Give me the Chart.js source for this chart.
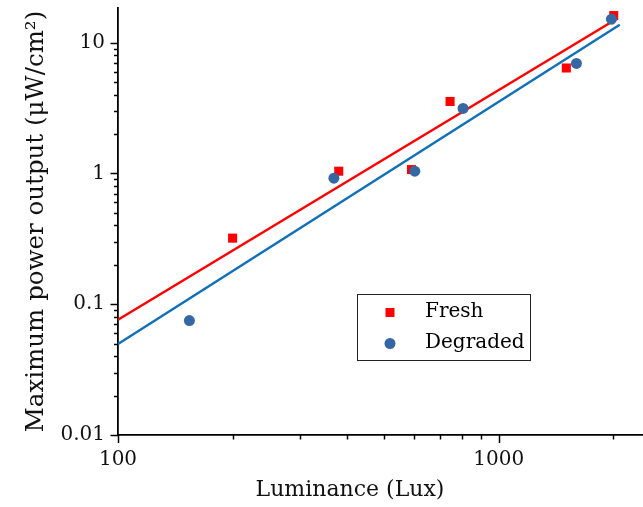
<!DOCTYPE html>
<html>
<head>
<meta charset="utf-8">
<script src="https://cdn.jsdelivr.net/npm/chart.js@4/dist/chart.umd.min.js"></script>
<style>
  html, body { margin: 0; padding: 0; background: #fff; }
  canvas { display: block; }
</style>
</head>
<body>
<canvas id="c" width="643" height="507"></canvas>
<script>
// ---- data ----
const freshLux    = [200, 380, 590, 745, 1505, 2005];
const freshPower  = [0.32, 1.04, 1.07, 3.55, 6.4, 16.1];
const degLux      = [154, 369, 602, 806, 1600, 1977];
const degPower    = [0.075, 0.92, 1.04, 3.14, 6.93, 15.1];
// fitted lines (end points)
const freshFitLux   = [100, 2038];
const freshFitPower = [0.076, 15.15];
const degFitLux     = [100, 2079];
const degFitPower   = [0.0496, 13.7];
const seriesNames = ['Fresh', 'Degraded'];
const xTickLabels = ['100', '1000'];
const yTickLabels = ['0.01', '0.1', '1', '10'];
const xTitle = 'Luminance (Lux)';
const yTitle = 'Maximum power output (μW/cm²)';

const RED = '#ff0000';
const BLUE_PT = '#3568a3';
const BLUE_LN = '#1170b6';
const FONT = "'DejaVu Serif', serif";

const pts = (xs, ys) => xs.map((x, i) => ({x, y: ys[i]}));

function mant(v) {
  const e = Math.floor(Math.log10(v) + 1e-9);
  return v / Math.pow(10, e);
}
function isDecadeStep(v) {
  const m = mant(v);
  return Math.abs(m - Math.round(m)) < 1e-6 && Math.round(m) >= 1 && Math.round(m) <= 9;
}
function isMajor(v) { return Math.abs(mant(v) - 1) < 1e-6; }
function fmt(v) { return String(parseFloat(v.toPrecision(6))); }

const tickPlugin = {
  id: 'ticks',
  afterDraw(chart) {
    const ctx = chart.ctx;
    const xs = chart.scales.x, ys = chart.scales.y;
    const area = chart.chartArea;
    ctx.save();
    ctx.strokeStyle = '#000';
    ctx.lineWidth = 1.5;
    ys.ticks.forEach(t => {
      if (!isDecadeStep(t.value)) return;
      const y = Math.round(ys.getPixelForValue(t.value)) + 0.5;
      const len = isMajor(t.value) ? 7.5 : 4;
      ctx.beginPath();
      ctx.moveTo(area.left - len, y);
      ctx.lineTo(area.left, y);
      ctx.stroke();
    });
    xs.ticks.forEach(t => {
      if (!isDecadeStep(t.value)) return;
      const x = Math.round(xs.getPixelForValue(t.value)) + 0.5;
      const len = isMajor(t.value) ? 8 : 4.5;
      ctx.beginPath();
      ctx.moveTo(x, area.bottom);
      ctx.lineTo(x, area.bottom + len);
      ctx.stroke();
    });
    // x axis title (centred as in the reference figure)
    ctx.fillStyle = '#111';
    ctx.font = "22px " + FONT;
    ctx.textAlign = 'center';
    ctx.textBaseline = 'middle';
    ctx.fillText(xTitle, 350, 490);
    ctx.restore();
  }
};

const legendPlugin = {
  id: 'boxLegend',
  afterDraw(chart) {
    const ctx = chart.ctx;
    ctx.save();
    const bx = 357.5, by = 294.5, bw = 173, bh = 66;
    ctx.strokeStyle = '#222';
    ctx.lineWidth = 1;
    ctx.strokeRect(bx, by, bw, bh);
    ctx.fillStyle = RED;
    ctx.fillRect(390 - 4.5, 312.5 - 4.5, 9, 9);
    ctx.fillStyle = BLUE_PT;
    ctx.beginPath();
    ctx.arc(390, 343.5, 5.5, 0, Math.PI * 2);
    ctx.fill();
    ctx.fillStyle = '#000';
    ctx.font = "20px " + FONT;
    ctx.textBaseline = 'middle';
    ctx.textAlign = 'left';
    ctx.fillText(seriesNames[0], 425, 312);
    ctx.fillText(seriesNames[1], 425, 343);
    ctx.restore();
  }
};

new Chart(document.getElementById('c'), {
  type: 'scatter',
  data: {
    datasets: [
      { label: seriesNames[0] + ' fit', data: pts(freshFitLux, freshFitPower), showLine: true,
        borderColor: RED, borderWidth: 2.5, pointRadius: 0, order: 4, clip: false },
      { label: seriesNames[1] + ' fit', data: pts(degFitLux, degFitPower), showLine: true,
        borderColor: BLUE_LN, borderWidth: 2.5, pointRadius: 0, order: 3, clip: false },
      { label: seriesNames[0], data: pts(freshLux, freshPower), pointStyle: 'rect',
        pointRadius: 6.4, pointHoverRadius: 6.4, backgroundColor: RED, borderWidth: 0, order: 2, clip: false },
      { label: seriesNames[1], data: pts(degLux, degPower), pointStyle: 'circle',
        pointRadius: 5.5, pointHoverRadius: 5.5, backgroundColor: BLUE_PT, borderWidth: 0, order: 1, clip: false }
    ]
  },
  options: {
    responsive: false,
    animation: false,
    devicePixelRatio: 1,
    layout: { autoPadding: false, padding: { top: 8, right: 0, left: 0, bottom: 0 } },
    plugins: { legend: { display: false }, tooltip: { enabled: false } },
    scales: {
      x: {
        type: 'logarithmic',
        min: 100, max: 2393,
        grid: { display: false, drawTicks: false },
        border: { display: true, color: '#000', width: 1.8 },
        ticks: {
          autoSkip: false, maxRotation: 0, padding: 13, color: '#111',
          font: { family: FONT, size: 20 },
          callback: (v) => { const s = fmt(v); return xTickLabels.includes(s) ? s : ''; }
        },
        title: { display: false },
        afterFit: (s) => { s.height = 72; s.paddingLeft = 0; s.paddingRight = 0; }
      },
      y: {
        type: 'logarithmic',
        min: 0.01, max: 18.4,
        grid: { display: false, drawTicks: false },
        border: { display: true, color: '#000', width: 1.8 },
        ticks: {
          autoSkip: false, padding: 13, color: '#111',
          font: { family: FONT, size: 20 },
          callback: (v) => { const s = fmt(v); return yTickLabels.includes(s) ? s : ''; }
        },
        title: { display: true, text: yTitle, color: '#111',
          font: { family: FONT, size: 24.5 }, padding: { top: 22, bottom: 0 } },
        afterFit: (s) => { s.width = 118; s.paddingTop = 0; s.paddingBottom = 0; }
      }
    }
  },
  plugins: [tickPlugin, legendPlugin]
});
</script>
</body>
</html>
